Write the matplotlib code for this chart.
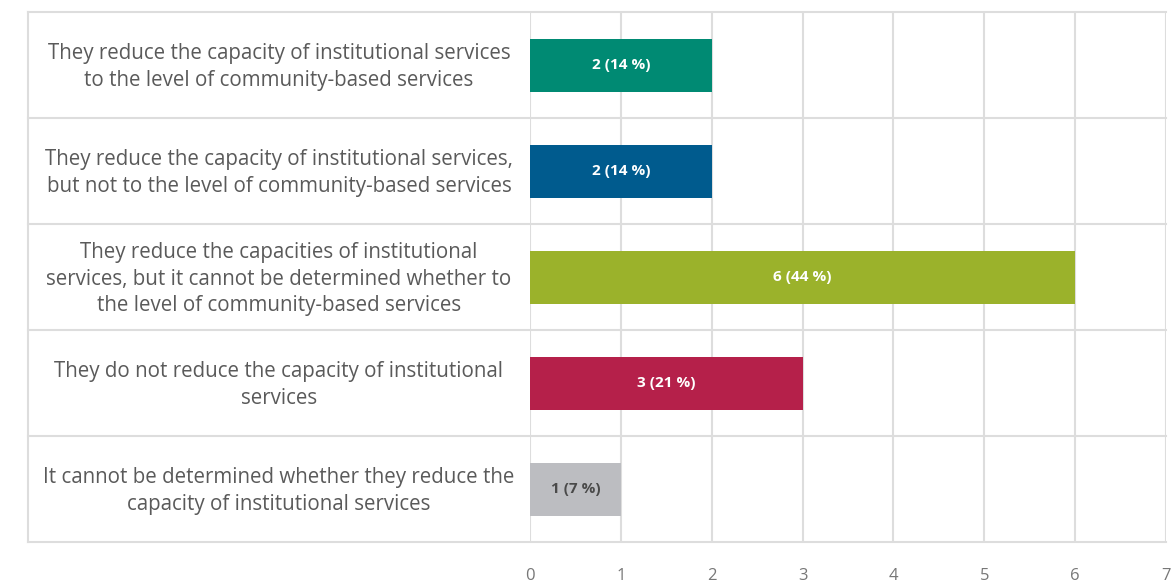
import matplotlib.pyplot as plt
import numpy as np

categories = [
    "They reduce the capacity of institutional services\nto the level of community-based services",
    "They reduce the capacity of institutional services,\nbut not to the level of community-based services",
    "They reduce the capacities of institutional\nservices, but it cannot be determined whether to\nthe level of community-based services",
    "They do not reduce the capacity of institutional\nservices",
    "It cannot be determined whether they reduce the\ncapacity of institutional services",
]
values = [2, 2, 6, 3, 1]
bar_labels = ["2 (14 %)", "2 (14 %)", "6 (44 %)", "3 (21 %)", "1 (7 %)"]
colors = ["#008a73", "#005b8e", "#9bb22b", "#b5204a", "#bcbdc1"]
label_colors = ["white", "white", "white", "white", "#4a4a4a"]
xticks = [0, 1, 2, 3, 4, 5, 6, 7]

grid_c = "#dddddd"
font = "Open Sans"

fig = plt.figure(figsize=(11.76, 5.83), dpi=100)
ax = fig.add_axes([530 / 1176, 1 - 542 / 583, 636 / 1176, 530 / 583])

y = np.arange(len(categories))
ax.barh(y, values, height=0.5, color=colors, zorder=3)
for i, v in enumerate(values):
    ax.text(v / 2, y[i], bar_labels[i], ha="center", va="center", color=label_colors[i],
            fontsize=11, fontweight="bold", family=font, zorder=4)

ax.set_xlim(0, 7)
ax.set_ylim(len(categories) - 0.5, -0.5)
ax.set_xticks(xticks)
ax.set_xticklabels([str(t) for t in xticks], color="#777777", fontsize=12, family=font)
ax.tick_params(axis="x", length=0, pad=18.5)
ax.set_yticks([])

for s in ax.spines.values():
    s.set_visible(False)

# vertical grid lines
for t in xticks:
    ax.axvline(t, color=grid_c, lw=1.5, zorder=1)

# row separators extending into the label column
left_x = (28 - 530) / 636 * 7
for b in np.arange(-0.5, len(categories), 1):
    ax.plot([left_x, 7], [b, b], color=grid_c, lw=1.5, clip_on=False, zorder=1)
ax.plot([left_x, left_x], [-0.5, len(categories) - 0.5], color=grid_c, lw=1.5, clip_on=False, zorder=1)

label_x = (279 - 530) / 636 * 7
for i, c in enumerate(categories):
    ax.text(label_x, y[i] + 0.02, c, ha="center", va="center", color="#5a5a5a", fontsize=14.8,
            family=font, linespacing=1.35, clip_on=False)

plt.savefig("out.png", dpi=100)
plt.close()
